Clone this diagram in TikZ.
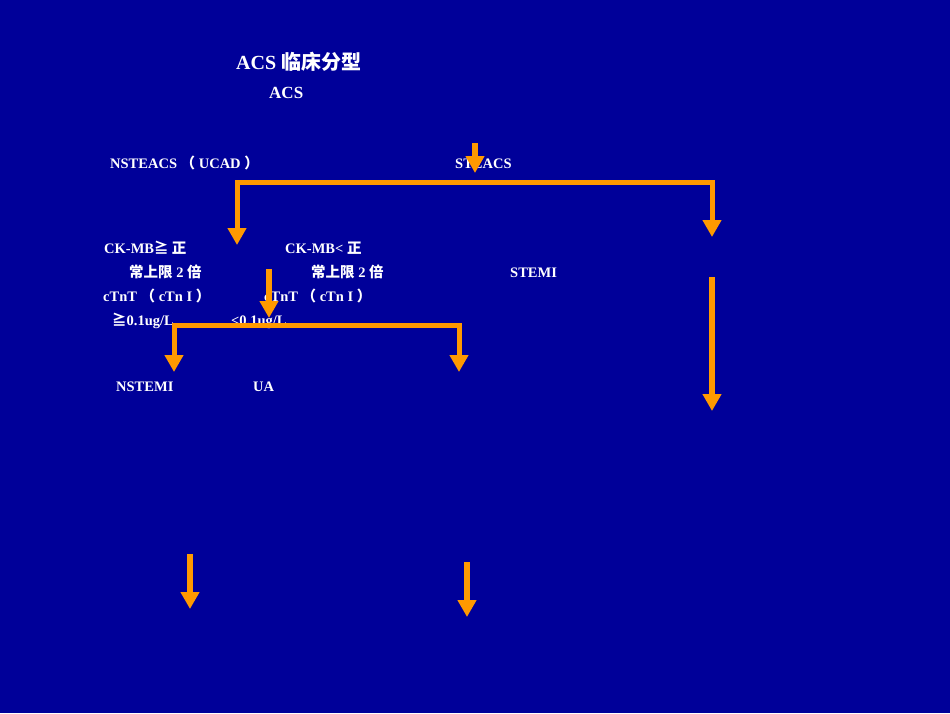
\documentclass[tikz,border=0pt]{standalone}
\usepackage{fontspec}
\setmainfont{Liberation Serif}
\newfontfamily\cjk{Noto Sans CJK SC}
\usetikzlibrary{arrows.meta}
\definecolor{slidebg}{RGB}{0,0,153}
\definecolor{arroworange}{RGB}{255,153,0}

\begin{document}
\begin{tikzpicture}[
    x=1pt, y=-1pt,
    lbl/.style={text=white, font=\bfseries\fontsize{14.5}{16}\selectfont, anchor=base west, inner sep=0pt},
    arr/.style={-{Triangle[width=18pt, length=17pt]}, line width=5.5pt, draw=arroworange},
    bar/.style={{Triangle[width=18pt, length=17pt]}-{Triangle[width=18pt, length=17pt]}, line width=5pt, draw=arroworange, line join=miter}
]
    % slide background
    \fill[slidebg] (0,0) rectangle (950,713);

    % titles
    \node[lbl, font=\bfseries\fontsize{20}{22}\selectfont] (title) at (236,69) {ACS {\cjk 临床分型}};
    \node[lbl, font=\bfseries\fontsize{17}{19}\selectfont] (acs) at (269,98) {ACS};

    % first level
    \node[lbl] (nsteacs) at (110,168) {NSTEACS {\cjk （} UCAD {\cjk ）}};
    \node[lbl] (steacs) at (455,168) {STEACS};

    % criteria
    \node[lbl] (ckhigh) at (104,253) {CK-MB{\cjk ≧ 正}};
    \node[lbl] (limhigh) at (129,277) {{\cjk 常上限} 2 {\cjk 倍}};
    \node[lbl] (tnhigh) at (103,301) {cTnT {\cjk （} cTn I {\cjk ）}};
    \node[lbl] (valhigh) at (112,325) {{\cjk ≧}0.1ug/L};

    \node[lbl] (cklow) at (285,253) {CK-MB< {\cjk 正}};
    \node[lbl] (limlow) at (311,277) {{\cjk 常上限} 2 {\cjk 倍}};
    \node[lbl] (tnlow) at (264,301) {cTnT {\cjk （} cTn I {\cjk ）}};
    \node[lbl] (vallow) at (231,325) {<0.1ug/L};

    \node[lbl] (stemi) at (510,277) {STEMI};

    % second level
    \node[lbl] (nstemi) at (116,391) {NSTEMI};
    \node[lbl] (ua) at (253,391) {UA};

    % arrow ends
    \coordinate (acsdown) at (475,143);
    \coordinate (acstip) at (475,173);
    \coordinate (nstetip) at (237,245);
    \coordinate (nstecorner) at (237,182);
    \coordinate (stecorner) at (712,182);
    \coordinate (stetip) at (712,237);
    \coordinate (critdown) at (269,269);
    \coordinate (crittip) at (269,318);
    \coordinate (nstemitip) at (174,372);
    \coordinate (nstemicorner) at (174,325);
    \coordinate (uacorner) at (459,325);
    \coordinate (uatip) at (459,372);
    \coordinate (stemidown) at (712,277);
    \coordinate (stemitip) at (712,411);
    \coordinate (leftdown) at (190,554);
    \coordinate (lefttip) at (190,609);
    \coordinate (rightdown) at (467,562);
    \coordinate (righttip) at (467,617);

    % connectors
    \draw[arr] (acsdown) -- (acstip);
    \draw[bar] (nstetip) -- (nstecorner) -- (stecorner) -- (stetip);
    \draw[arr] (critdown) -- (crittip);
    \draw[bar] (nstemitip) -- (nstemicorner) -- (uacorner) -- (uatip);
    \draw[arr] (stemidown) -- (stemitip);
    \draw[arr] (leftdown) -- (lefttip);
    \draw[arr] (rightdown) -- (righttip);
\end{tikzpicture}
\end{document}
